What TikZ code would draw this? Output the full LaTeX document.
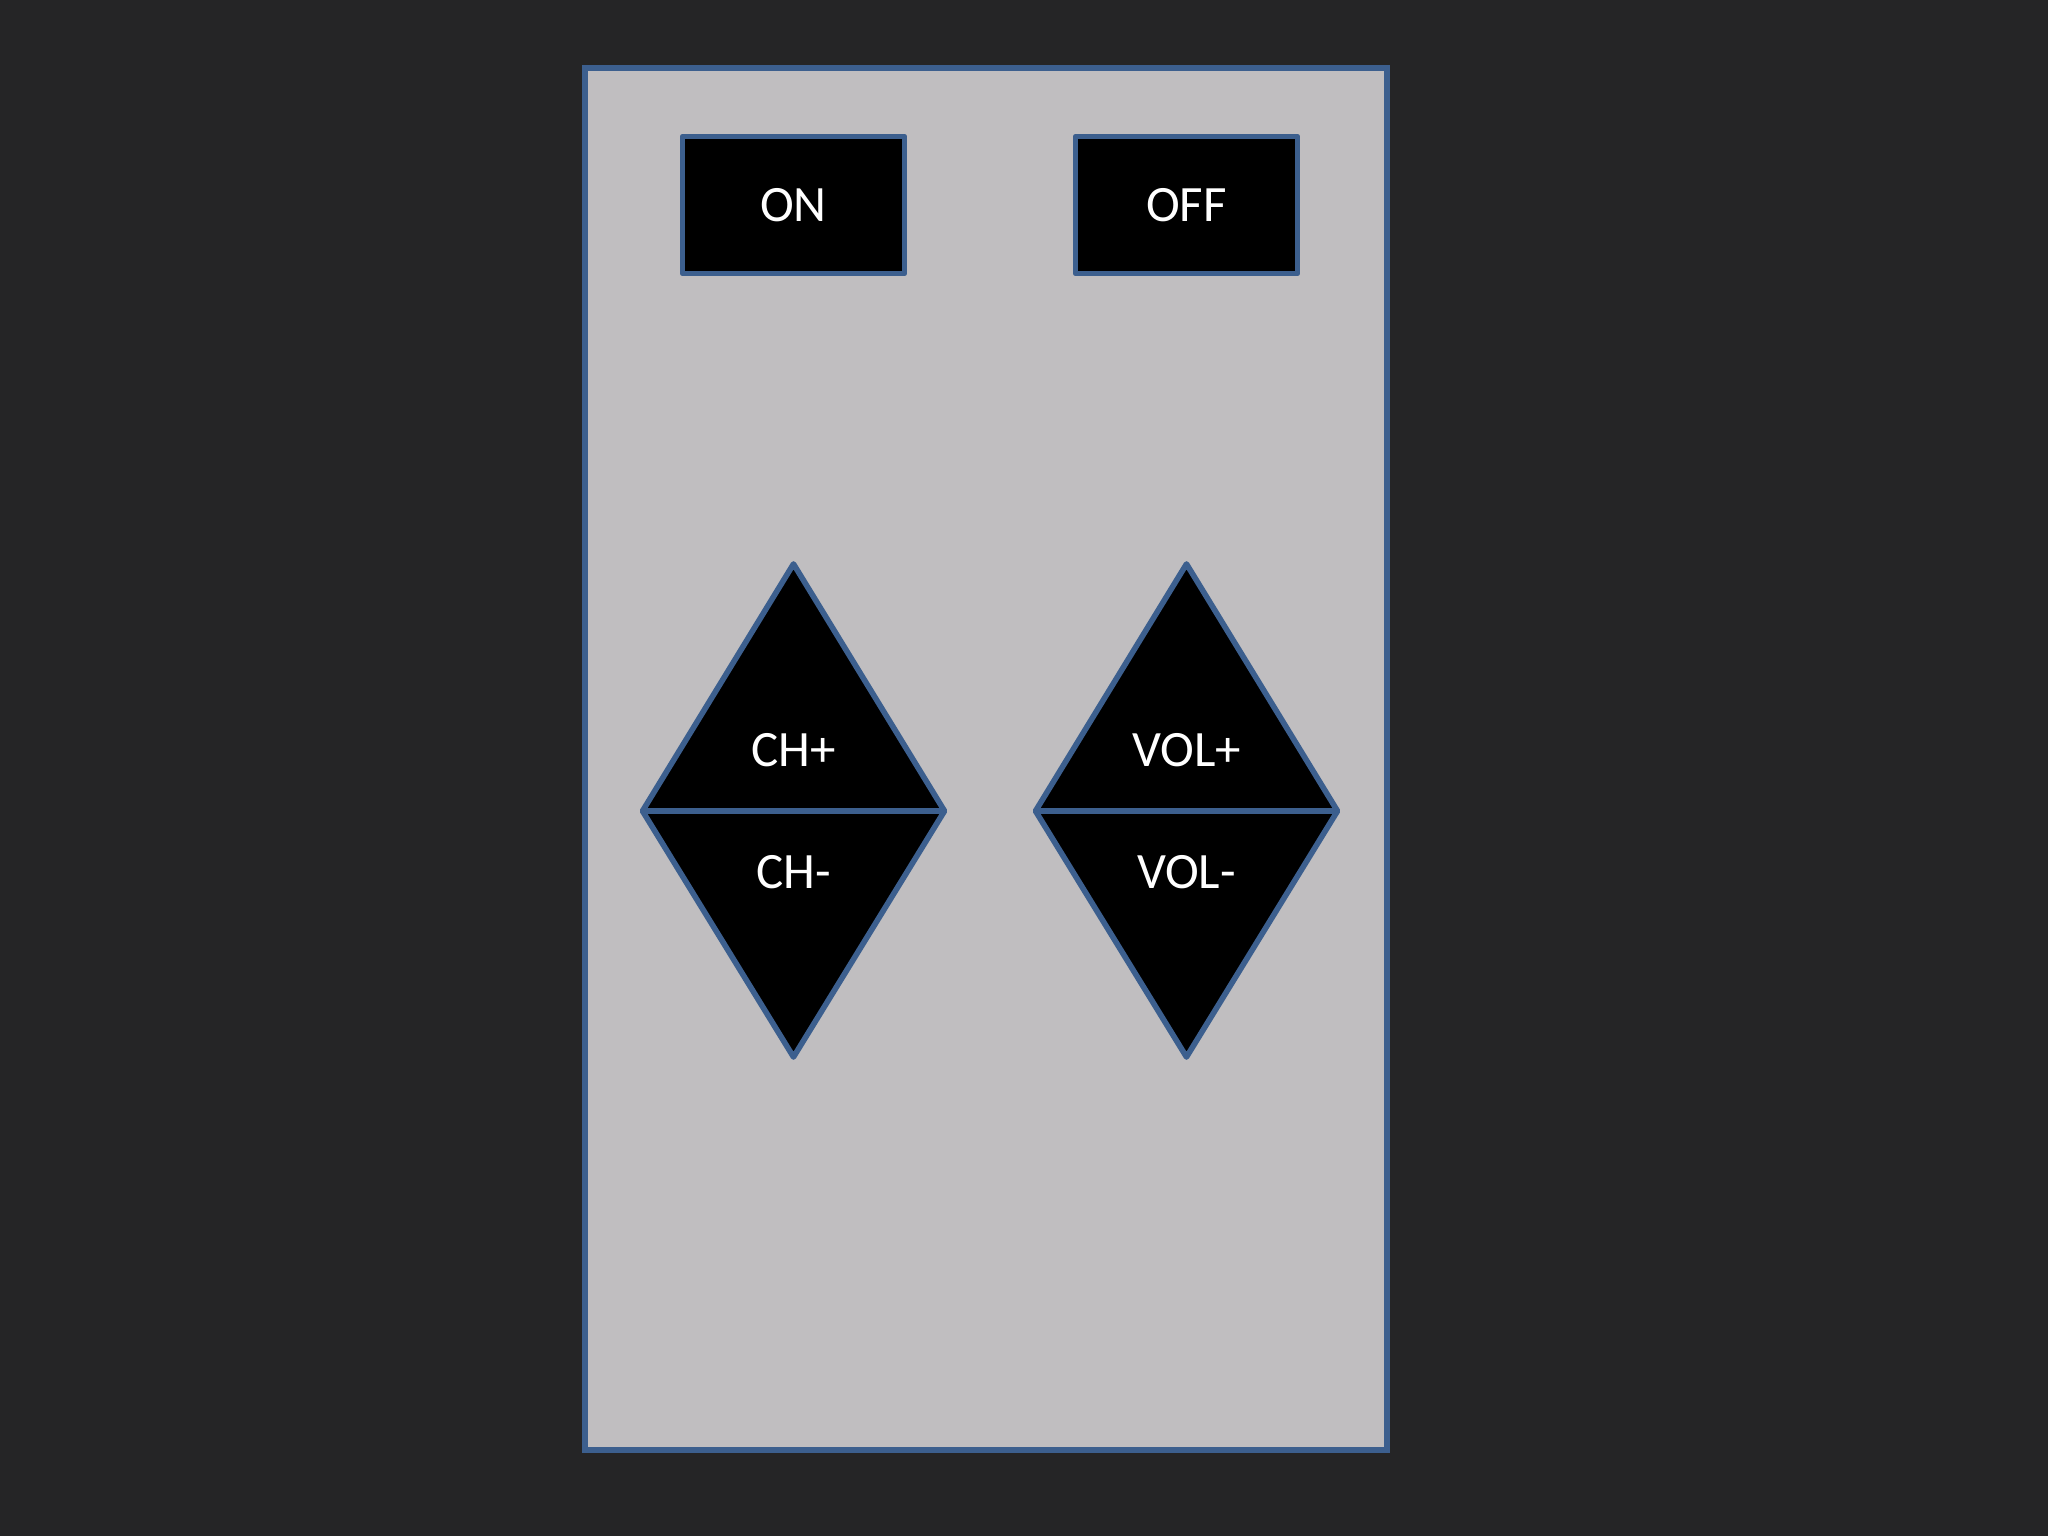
\documentclass[tikz,border=0pt]{standalone}
\usepackage{fontspec}
\setmainfont{Carlito}
\usetikzlibrary{calc}
\definecolor{bgdark}{HTML}{252526}
\definecolor{panelgray}{HTML}{C0BEC0}
\definecolor{edgeblue}{HTML}{3C5F8E}
\tikzset{%
  panel/.style={draw=edgeblue,fill=panelgray,line width=1.6pt},
  btn/.style={draw=edgeblue,fill=black,line width=1.6pt,line join=round},
  lbl/.style={text=white,font=\fontsize{14.5}{16}\selectfont,inner sep=0},
  keybox/.style={btn,lbl,minimum width=2.22cm,minimum height=1.37cm}
}
\begin{document}
\begin{tikzpicture}
    \fill[bgdark] (0,0) rectangle (20.48,-15.36);
    \useasboundingbox (0,0) rectangle (20.48,-15.36);
    \draw[panel] (5.85,-0.68) rectangle (13.87,-14.50);
    \node[keybox] (on) at (7.935,-2.05){ON};
    \node[keybox] (off) at (11.865,-2.05){OFF};
    \foreach \name/\x/\up/\down in {ch/7.935/CH+/CH-, vol/11.865/VOL+/VOL-}{
      \coordinate (\name) at (\x,-8.11);
      \coordinate (\name-l) at ($(\name)+(-1.51,0)$);
      \coordinate (\name-r) at ($(\name)+(1.51,0)$);
      \coordinate (\name-t) at ($(\name)+(0,2.47)$);
      \coordinate (\name-b) at ($(\name)+(0,-2.46)$);
      \draw[btn] (\name-l) -- (\name-t) -- (\name-r) -- cycle;
      \draw[btn] (\name-l) -- (\name-b) -- (\name-r) -- cycle;
      \node[lbl] (\name-up) at ($(\name)+(0,0.61)$){\up};
      \node[lbl] (\name-down) at ($(\name)+(0,-0.61)$){\down};
    }
\end{tikzpicture}
\end{document}
